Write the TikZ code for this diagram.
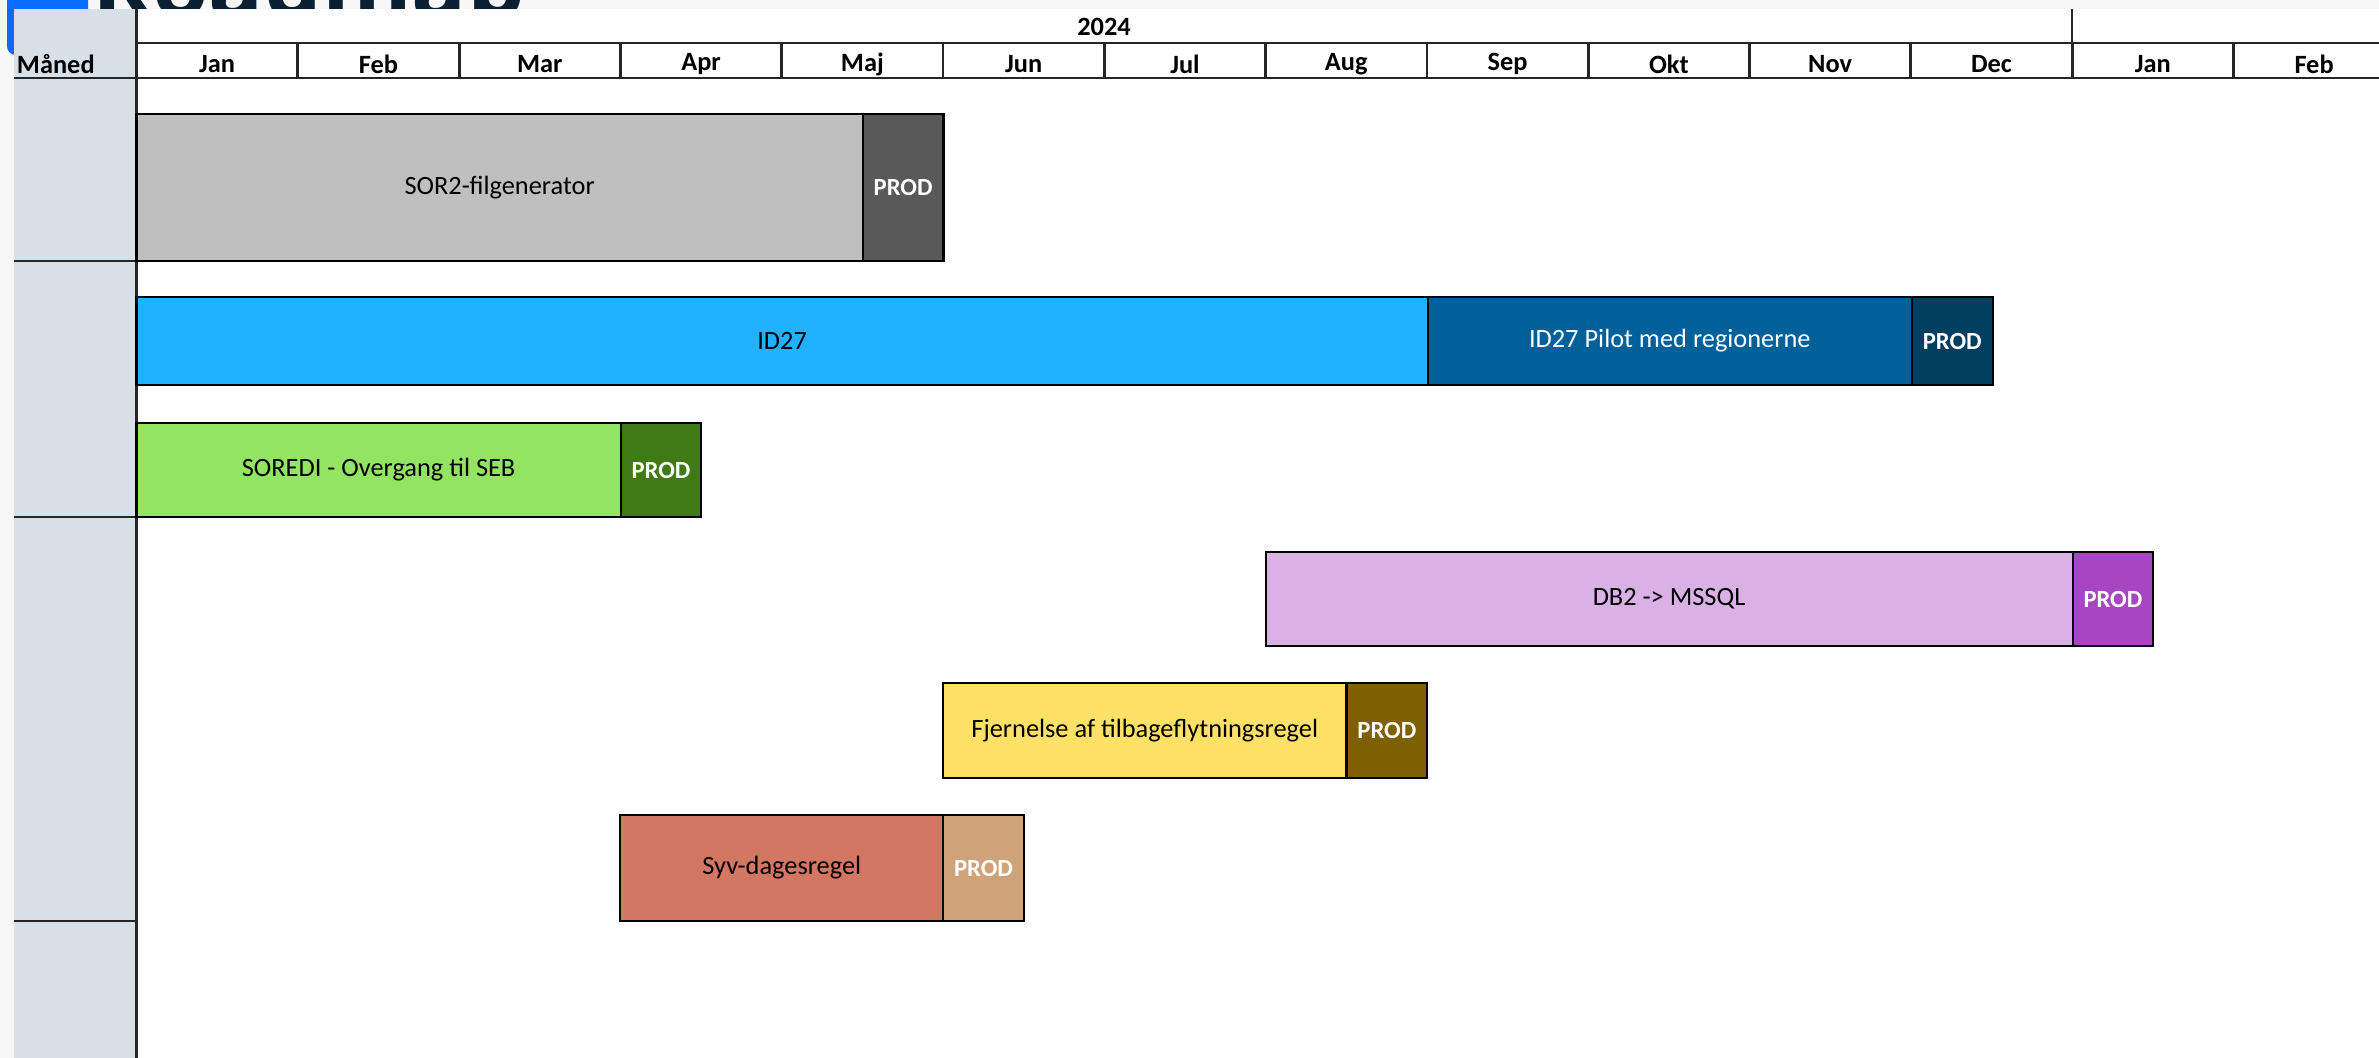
\documentclass[tikz,border=0pt]{standalone}
\usepackage{fontspec}
\setmainfont{Carlito}
\newfontfamily\titlefont{Open Sans}
\usepackage{tikz}
\usetikzlibrary{positioning}

\definecolor{bandgray}{HTML}{F7F7F7}
\definecolor{panelgray}{HTML}{D6E0E6}
\definecolor{accent}{HTML}{0A6CFF}
\definecolor{titlenavy}{HTML}{0B2033}
\definecolor{gridline}{HTML}{262626}
\definecolor{sorgray}{HTML}{BFBFBF}
\definecolor{sorprod}{HTML}{595959}
\definecolor{idblue}{HTML}{21B1FF}
\definecolor{pilotblue}{HTML}{00609A}
\definecolor{idprod}{HTML}{003F60}
\definecolor{sorgreen}{HTML}{94E463}
\definecolor{sorgreenprod}{HTML}{3F7A15}
\definecolor{dblila}{HTML}{DAB1E5}
\definecolor{dbprod}{HTML}{A846C1}
\definecolor{fjyellow}{HTML}{FFE168}
\definecolor{fjprod}{HTML}{7F6000}
\definecolor{syvred}{HTML}{D37762}
\definecolor{syvprod}{HTML}{D0A27A}

\def\mw{1.613cm}

\begin{document}
\begin{tikzpicture}[
        x=0.01cm, y=-0.01cm,
        every node/.style={font=\fontsize{7.5}{9}\selectfont, inner sep=0pt, outer sep=0pt},
        bar/.style={draw=black, line width=0.6pt, anchor=north west, align=center},
        prod/.style={bar, text=white, font=\fontsize{7}{8.5}\selectfont\bfseries, minimum width={0.5*\mw}},
        hdr/.style={font=\fontsize{7.5}{9}\selectfont\bfseries},
        grid/.style={draw=gridline, line width=0.8pt}
    ]
      \clip (0,0) rectangle (2379,1058);
      \fill[bandgray] (0,0) rectangle (2379,1058);
      \fill[accent, rounded corners=2.5pt] (7,-20) rectangle (88,55);
      \begin{scope}
        \clip (0,0) rectangle (2379,9.5);
        \node[anchor=base west, text=titlenavy, font=\titlefont\bfseries\fontsize{26}{30}\selectfont] (title) at (92,18) {Roadmap};
      \end{scope}
      \fill[white] (14,9.5) rectangle (2379,1058);
      \fill[panelgray] (14,9.5) rectangle (136.5,1058);

      \draw[grid] (136.5,9.5) -- (136.5,1058);
      \draw[grid] (2072,9.5) -- (2072,43);
      \draw[grid] (136.5,43) -- (2379,43);
      \draw[grid] (14,78) -- (2379,78);
      \foreach \i in {1,...,13}
        \draw[grid] ({136.5+161.3*\i},43) -- ({136.5+161.3*\i},78);
      \draw[grid] (14,261) -- (136.5,261);
      \draw[grid] (14,517) -- (136.5,517);
      \draw[grid] (14,921) -- (136.5,921);

      \node[hdr] (year) at (1104,27) {2024};
      \node[hdr, anchor=west] (maaned) at (17,64) {Måned};
      \foreach \i/\m in {1/Jan,2/Feb,3/Mar,4/Apr,5/Maj,6/Jun,7/Jul,8/Aug,9/Sep,10/Okt,11/Nov,12/Dec,13/Jan,14/Feb}
        \node[hdr] (m\i) at ({136.5+161.3*(\i-0.5)},64) {\m};

      \node[bar, fill=sorgray, minimum width={4.5*\mw}, minimum height=1.47cm] (sor2) at (136.5,114) {SOR2-filgenerator};
      \node[prod, fill=sorprod, minimum height=1.47cm, right=0pt of sor2] (sor2prod) {PROD};

      \node[bar, fill=idblue, minimum width={8*\mw}, minimum height=0.88cm] (id27) at (136.5,297) {ID27};
      \node[bar, fill=pilotblue, text=white, minimum width={3*\mw}, minimum height=0.88cm, right=0pt of id27] (pilot) {ID27 Pilot med regionerne};
      \node[prod, fill=idprod, minimum height=0.88cm, right=0pt of pilot] (pilotprod) {PROD};

      \node[bar, fill=sorgreen, minimum width={3*\mw}, minimum height=0.94cm] (soredi) at (136.5,423) {SOREDI - Overgang til SEB};
      \node[prod, fill=sorgreenprod, minimum height=0.94cm, right=0pt of soredi] (sorediprod) {PROD};

      \node[bar, fill=dblila, minimum width={5*\mw}, minimum height=0.94cm] (db2) at (1265.6,552) {DB2 -> MSSQL};
      \node[prod, fill=dbprod, minimum height=0.94cm, right=0pt of db2] (db2prod) {PROD};

      \node[bar, fill=fjyellow, minimum width={2.5*\mw}, minimum height=0.95cm] (fjern) at (943,683) {Fjernelse af tilbageflytningsregel};
      \node[prod, fill=fjprod, minimum height=0.95cm, right=0pt of fjern] (fjernprod) {PROD};

      \node[bar, fill=syvred, minimum width={2*\mw}, minimum height=1.06cm] (syv) at (620.4,815) {Syv-dagesregel};
      \node[prod, fill=syvprod, minimum height=1.06cm, right=0pt of syv] (syvprod) {PROD};
    \end{tikzpicture}
\end{document}
